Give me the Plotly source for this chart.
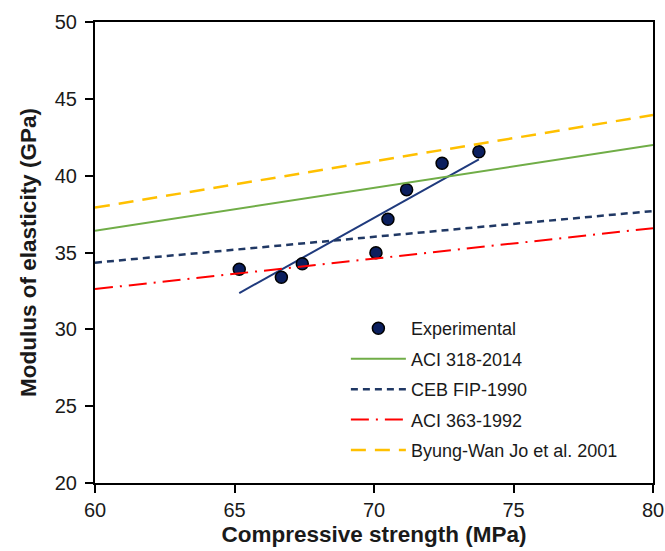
import numpy as np
import plotly.graph_objects as go

# Measured compressive strength (MPa) and modulus of elasticity (GPa)
fc_exp = [65.17, 66.68, 67.43, 70.07, 70.50, 71.17, 72.44, 73.76]
ec_exp = [33.91, 33.39, 34.27, 34.99, 37.16, 39.09, 40.81, 41.56]

# Code / model predictions over the plotted strength range
fc_range = [60, 80]
ec_aci318 = [36.41, 42.00]
ec_ceb = [34.34, 37.70]
ec_aci363 = [32.62, 36.58]
ec_jo = [37.92, 43.95]

x_ticks = [60, 65, 70, 75, 80]
y_ticks = [20, 25, 30, 35, 40, 45, 50]

# Least-squares trend through the experimental points
slope, intercept = np.polyfit(fc_exp, ec_exp, 1)
fit_x = np.array([min(fc_exp), max(fc_exp)])
fit_y = slope * fit_x + intercept

FONT = "Liberation Sans, Arial, sans-serif"

fig = go.Figure()

fig.add_trace(go.Scatter(
    x=fit_x, y=fit_y, mode="lines", showlegend=False,
    line=dict(color="#1F3A7D", width=2),
))
fig.add_trace(go.Scatter(
    x=fc_exp, y=ec_exp, mode="markers", name="Experimental",
    legendgroup="a",
    marker=dict(color="#0B1F5E", size=12, line=dict(color="#000000", width=1.5)),
))
fig.add_trace(go.Scatter(
    x=fc_range, y=ec_aci318, mode="lines", name="ACI 318-2014",
    legendgroup="b",
    line=dict(color="#70AD47", width=2),
))
fig.add_trace(go.Scatter(
    x=fc_range, y=ec_ceb, mode="lines", name="CEB FIP-1990",
    legendgroup="c",
    line=dict(color="#203864", width=2.5, dash="7px,5px"),
))
fig.add_trace(go.Scatter(
    x=fc_range, y=ec_aci363, mode="lines", name="ACI 363-1992",
    legendgroup="d",
    line=dict(color="#FF0000", width=2, dash="18px,7px,2px,7px"),
))
fig.add_trace(go.Scatter(
    x=fc_range, y=ec_jo, mode="lines", name="Byung-Wan Jo et al. 2001",
    legendgroup="e",
    line=dict(color="#FFC000", width=2.5, dash="15px,9px"),
))

axis_common = dict(
    showgrid=False, zeroline=False,
    showline=True, linecolor="#000000", linewidth=2, mirror=True,
    ticks="outside", ticklen=8, tickwidth=1.5, tickcolor="#000000",
    tickfont=dict(family=FONT, size=20, color="#1a1a1a"),
    automargin=False,
)

fig.update_layout(
    width=665, height=551,
    margin=dict(l=95, r=12, t=22, b=68),
    paper_bgcolor="white", plot_bgcolor="white",
    xaxis=dict(
        range=[60, 80], tickvals=x_ticks,
        title=dict(text="<b>Compressive strength (MPa)</b>", standoff=6,
                   font=dict(family=FONT, size=22.5, color="#1a1a1a")),
        **axis_common,
    ),
    yaxis=dict(
        range=[20, 50], tickvals=y_ticks, ticklabelstandoff=4,
        title=dict(text="<b>Modulus of elasticity (GPa)</b>", standoff=12,
                   font=dict(family=FONT, size=22.5, color="#1a1a1a")),
        **axis_common,
    ),
    legend=dict(
        x=0.4496, y=0.375, xanchor="left", yanchor="top",
        bgcolor="rgba(0,0,0,0)", borderwidth=0,
        font=dict(family=FONT, size=18, color="#1a1a1a"),
        itemwidth=55, tracegroupgap=4,
    ),
)

fig.write_html("out.html")
